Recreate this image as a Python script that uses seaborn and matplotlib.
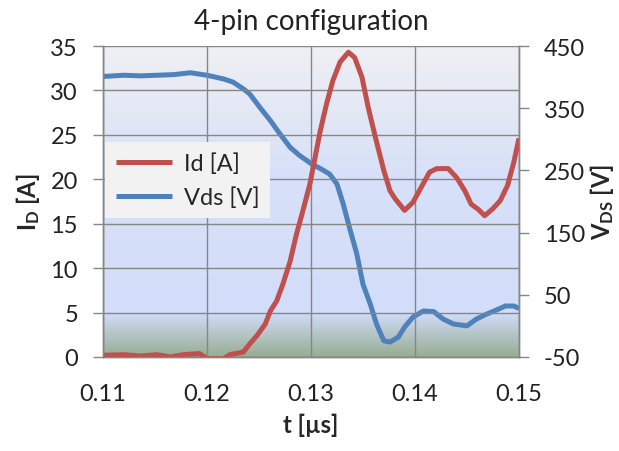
import numpy as np
import pandas as pd
import matplotlib
matplotlib.use('Agg')
import matplotlib.pyplot as plt
import seaborn as sns
from matplotlib.colors import LinearSegmentedColormap

# Id trace (primary axis)
t_id = [0.1100, 0.1120, 0.1136, 0.1152, 0.1165, 0.1177, 0.1193, 0.1200, 0.1216, 0.1222,
        0.1235, 0.1241, 0.1248, 0.1256, 0.1261, 0.1267, 0.1273, 0.1280, 0.1286, 0.1293,
        0.1299, 0.1304, 0.1309, 0.1315, 0.1321, 0.1328, 0.1336, 0.1342, 0.1349, 0.1355,
        0.1362, 0.1370, 0.1376, 0.1381, 0.1390, 0.1398, 0.1406, 0.1414, 0.1421, 0.1432,
        0.1440, 0.1448, 0.1454, 0.1461, 0.1467, 0.1475, 0.1482, 0.1489, 0.1495, 0.1500]
id_a = [0.19, 0.26, 0.11, 0.26, 0.0, 0.26, 0.38, -0.19, -0.19, 0.26,
        0.56, 1.46, 2.4, 3.7, 5.2, 6.3, 8.2, 10.8, 13.8, 16.8,
        19.5, 22.5, 25.5, 28.5, 31.1, 33.2, 34.3, 33.7, 31.5, 28.1,
        24.7, 21.0, 18.7, 17.8, 16.5, 17.4, 19.1, 20.8, 21.2, 21.2,
        20.2, 18.7, 17.2, 16.6, 15.9, 16.7, 17.6, 19.3, 21.9, 24.6]

# Vds trace (secondary axis)
t_vds = [0.1100, 0.1120, 0.1136, 0.1152, 0.1168, 0.1184, 0.1200, 0.1216, 0.1225, 0.1235,
         0.1241, 0.1251, 0.1261, 0.1270, 0.1280, 0.1289, 0.1301, 0.1310, 0.1318, 0.1325,
         0.1331, 0.1337, 0.1344, 0.1350, 0.1357, 0.1363, 0.1370, 0.1376, 0.1384, 0.1390,
         0.1398, 0.1408, 0.1418, 0.1427, 0.1437, 0.1450, 0.1459, 0.1469, 0.1479, 0.1487,
         0.1495, 0.1500]
vds_v = [401, 403, 402, 403, 404, 407, 403, 397, 392, 381,
         373, 351, 330, 309, 287, 274, 260, 252, 244, 228,
         196, 158, 116, 67, 35, 3, -24, -26, -18, -2,
         14, 24, 23, 11, 3, 0, 11, 19, 26, 32,
         32, 28]

x_ticks = [0.11, 0.12, 0.13, 0.14, 0.15]
x_labels = ['0.11', '0.12', '0.13', '0.14', '0.15']
id_ticks = [0, 5, 10, 15, 20, 25, 30, 35]
vds_ticks = [-50, 50, 150, 250, 350, 450]

sns.set_style('white')
plt.rcParams['font.family'] = ['Lato', 'DejaVu Sans']
plt.rcParams['mathtext.fontset'] = 'custom'
plt.rcParams['mathtext.rm'] = 'Lato'
plt.rcParams['mathtext.bf'] = 'Lato:bold'
plt.rcParams['axes.unicode_minus'] = False

df_id = pd.DataFrame({'t': t_id, 'Id': id_a})
df_vds = pd.DataFrame({'t': t_vds, 'Vds': vds_v})

red = '#C0504D'
blue = '#4F81BD'
gray = '#868686'
fs = 17

fig = plt.figure(figsize=(6.19, 4.52), dpi=100)
ax1 = fig.add_axes([0.1664, 0.208, 0.672, 0.688])
ax2 = ax1.twinx()
# red trace sits above blue, so put primary axis on top
ax1.set_zorder(ax2.get_zorder() + 1)
ax1.patch.set_visible(False)
ax2.patch.set_visible(False)

cmap = LinearSegmentedColormap.from_list('bg', [
    (0.0, '#97AD93'), (0.143, '#D2DDFA'), (0.6, '#D8E1F8'), (1.0, '#EFF0F3')])
grad = np.linspace(0, 1, 256).reshape(-1, 1)
ax2.imshow(grad, cmap=cmap, origin='lower', aspect='auto',
           extent=(0.11, 0.15, -50, 450), zorder=0)

line_kw = dict(lw=3.6, solid_joinstyle='round', solid_capstyle='butt', legend=False)
sns.lineplot(data=df_vds, x='t', y='Vds', ax=ax2, color=blue, label='Vds [V]', **line_kw)
sns.lineplot(data=df_id, x='t', y='Id', ax=ax1, color=red, label='Id [A]', **line_kw)

ax1.set_xlim(0.11, 0.15)
ax1.set_ylim(0, 35)
ax2.set_ylim(-50, 450)
ax1.set_xticks(x_ticks)
ax1.set_xticklabels(x_labels)
ax1.set_yticks(id_ticks)
ax2.set_yticks(vds_ticks)

ax1.grid(True, color=gray, lw=1)
ax2.grid(False)
for ax in (ax1, ax2):
    for s in ax.spines.values():
        s.set_color(gray)
        s.set_linewidth(1)
    ax.tick_params(colors=gray, labelcolor='#222222', labelsize=fs,
                   length=7, width=1, direction='out')
ax1.tick_params(axis='y', pad=11)
ax1.tick_params(axis='x', pad=12)
ax2.tick_params(axis='y', pad=11)
ax1.spines['top'].set_visible(False)
ax2.spines['top'].set_visible(False)

ax1.set_title('4-pin configuration', fontsize=20, pad=12, color='#222222')
ax1.set_xlabel('t [µs]', fontsize=fs, fontweight='bold', labelpad=6)
ax1.set_ylabel(r'$\mathbf{I_D}$ [A]', fontsize=fs, fontweight='bold', labelpad=6)
ax2.set_ylabel(r'$\mathbf{V_{DS}}$ [V]', fontsize=fs, fontweight='bold', labelpad=2)

h1, l1 = ax1.get_legend_handles_labels()
h2, l2 = ax2.get_legend_handles_labels()
leg = ax1.legend(h1 + h2, l1 + l2, loc='upper left', bbox_to_anchor=(0.005, 0.691),
                 borderaxespad=0, frameon=True, fancybox=False, fontsize=fs,
                 handlelength=2.4, handletextpad=0.5, labelspacing=0.5,
                 borderpad=0.45)
leg.get_frame().set_facecolor('#F2F2F2')
leg.get_frame().set_edgecolor('none')
leg.get_frame().set_alpha(1)

plt.savefig('out.png', dpi=100)
